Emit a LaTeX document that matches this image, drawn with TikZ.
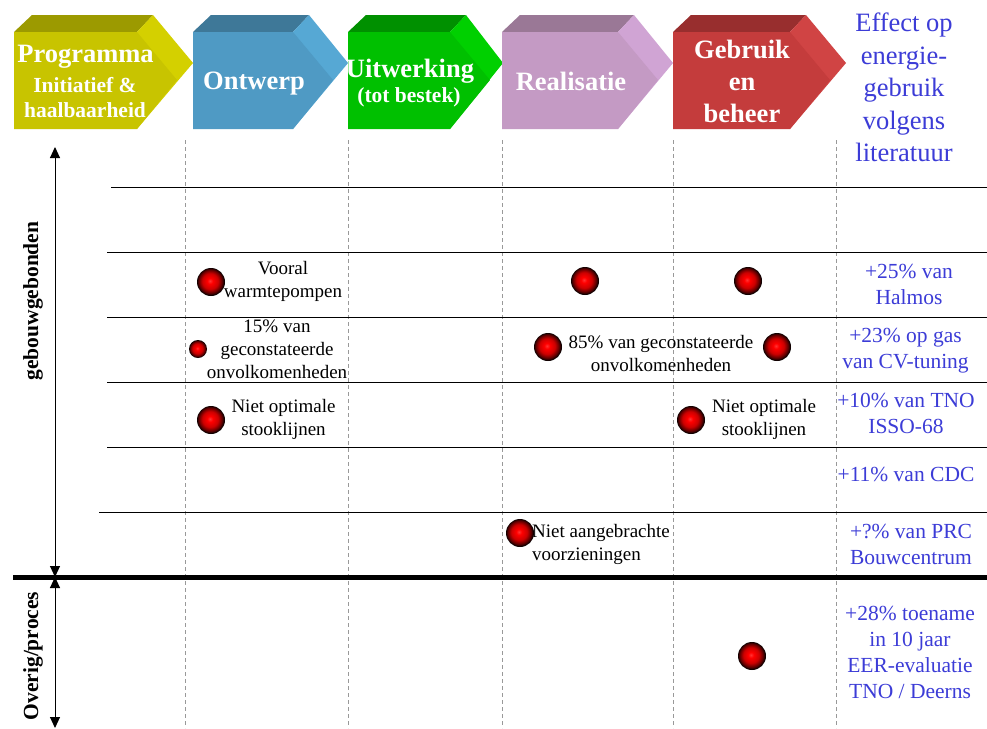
\documentclass[tikz,border=0pt]{standalone}
\usepackage{fontspec}
\setmainfont{Liberation Serif}
\usetikzlibrary{arrows.meta}
\usepackage{xcolor}

\definecolor{progfront}{RGB}{200,196,0}
\definecolor{progtop}{RGB}{156,154,0}
\definecolor{progside}{RGB}{212,208,0}
\definecolor{ontwfront}{RGB}{79,154,196}
\definecolor{ontwtop}{RGB}{62,120,152}
\definecolor{ontwside}{RGB}{86,168,212}
\definecolor{uitwfront}{RGB}{0,192,0}
\definecolor{uitwtop}{RGB}{0,144,0}
\definecolor{uitwside}{RGB}{0,208,0}
\definecolor{realfront}{RGB}{196,154,196}
\definecolor{realtop}{RGB}{154,120,150}
\definecolor{realside}{RGB}{208,164,212}
\definecolor{gebrfront}{RGB}{196,60,60}
\definecolor{gebrtop}{RGB}{152,46,46}
\definecolor{gebrside}{RGB}{208,68,68}
\definecolor{effblue}{RGB}{60,60,215}

\pgfdeclareradialshading{redsphere}{\pgfpoint{-2bp}{2bp}}{color(0bp)=(red!80!white); color(5bp)=(red); color(14bp)=(red!80!black); color(21bp)=(red!35!black); color(25bp)=(black); color(50bp)=(black)}

\begin{document}
\begin{tikzpicture}[x=1pt,y=-1pt]
\tikzstyle{every node}+=[inner sep=0pt]
\tikzstyle{stagebig}=[text=white, align=center, font=\fontsize{26.5}{32}\selectfont\bfseries]
\tikzstyle{stagesmall}=[text=white, align=center, font=\fontsize{21.5}{25}\selectfont\bfseries]
\tikzstyle{note}=[black, align=center, font=\fontsize{19}{23}\selectfont]
\tikzstyle{effect}=[text=effblue, align=center, font=\fontsize{21.5}{26}\selectfont]
\tikzstyle{heading}=[text=effblue, align=center, font=\fontsize{26.5}{32.5}\selectfont]
\tikzstyle{sidelabel}=[black, rotate=90, font=\fontsize{21.5}{25}\selectfont\bfseries]
\tikzstyle{sphere}=[circle, minimum size=28pt, shade, shading=redsphere]
\tikzstyle{guide}=[gray!80, line width=0.8pt, dash pattern=on 4pt off 3pt]
\tikzstyle{rule}=[black, line width=1pt]
\tikzstyle{twoway}=[black, line width=1pt, {Triangle[length=11pt,width=10pt]}-{Triangle[length=11pt,width=10pt]}]
\useasboundingbox (0,0) rectangle (987,728);
\fill [white] (0,0) rectangle (987,728);
% fasen
\fill [progtop] (14,32) -- (32,15) -- (153,15) -- (137,32) -- cycle;
\fill [progside] (137,32) -- (153,15) -- (193,63) -- (137,129) -- cycle;
\fill [progfront] (14,32) -- (137,32) -- (177,80) -- (137,129) -- (14,129) -- cycle;
\fill [ontwtop] (193,32) -- (211,15) -- (309,15) -- (293,32) -- cycle;
\fill [ontwside] (293,32) -- (309,15) -- (348,63) -- (293,129) -- cycle;
\fill [ontwfront] (193,32) -- (293,32) -- (333,80) -- (293,129) -- (193,129) -- cycle;
\fill [uitwtop] (348,32) -- (366,15) -- (466,15) -- (450,32) -- cycle;
\fill [uitwside] (450,32) -- (466,15) -- (503,63) -- (450,129) -- cycle;
\fill [uitwfront] (348,32) -- (450,32) -- (490,80) -- (450,129) -- (348,129) -- cycle;
\fill [realtop] (502,32) -- (520,15) -- (634,15) -- (618,32) -- cycle;
\fill [realside] (618,32) -- (634,15) -- (673,63) -- (618,129) -- cycle;
\fill [realfront] (502,32) -- (618,32) -- (658,80) -- (618,129) -- (502,129) -- cycle;
\fill [gebrtop] (673,32) -- (691,15) -- (806,15) -- (790,32) -- cycle;
\fill [gebrside] (790,32) -- (806,15) -- (846,63) -- (790,129) -- cycle;
\fill [gebrfront] (673,32) -- (790,32) -- (830,80) -- (790,129) -- (673,129) -- cycle;
\node [stagebig] (prog) at (85.5,57) {Programma};
\node [stagesmall] (progsub) at (85,97.5) {Initiatief \&\\haalbaarheid};
\node [stagebig] (ontw) at (254,83.5) {Ontwerp};
\node [stagebig] (uitw) at (410,71) {Uitwerking};
\node [stagesmall] (uitwsub) at (409,97) {(tot bestek)};
\node [stagebig] (real) at (571,81.5) {Realisatie};
\node [stagebig] (gebr) at (742,81.5) {Gebruik\\en\\beheer};
\node [heading] (effect) at (904,87.5) {Effect op\\energie-\\gebruik\\volgens\\literatuur};
% raster
\draw [guide] (185,140) -- (185,728);
\draw [guide] (348,140) -- (348,728);
\draw [guide] (502,140) -- (502,728);
\draw [guide] (673,140) -- (673,728);
\draw [guide] (836,140) -- (836,728);
\draw [rule] (111,187) -- (987,187);
\draw [rule] (107,252) -- (987,252);
\draw [rule] (107,317) -- (987,317);
\draw [rule] (107,382) -- (987,382);
\draw [rule] (107,447) -- (987,447);
\draw [rule] (99,512) -- (987,512);
\draw [black, line width=5pt] (13,577) -- (987,577);
% assen
\coordinate (axtop) at (55,147);
\coordinate (axmid) at (55,577);
\coordinate (axbot) at (55,728);
\draw [twoway] (axtop) -- (axmid);
\draw [twoway] (axmid) -- (axbot);
\node [sidelabel] (gebouw) at (33,301) {gebouwgebonden};
\node [sidelabel] (overig) at (33,656) {Overig/proces};
% bollen
\node [sphere] (b1) at (211,282) {};
\node [sphere] (b2) at (585,281) {};
\node [sphere] (b3) at (748,281) {};
\node [sphere, minimum size=18pt] (b4) at (198,349) {};
\node [sphere] (b5) at (548,347) {};
\node [sphere] (b6) at (777,347) {};
\node [sphere] (b7) at (211,420) {};
\node [sphere] (b8) at (691,420) {};
\node [sphere] (b9) at (520,533) {};
\node [sphere] (b10) at (752,656) {};
% toelichting
\node [note] (n1) at (283,281.5) {Vooral\\warmtepompen};
\node [note] (n2) at (277,349) {15\% van\\geconstateerde\\onvolkomenheden};
\node [note] (n3) at (283.5,419.5) {Niet optimale\\stooklijnen};
\node [note] (n4) at (661,353) {85\% van geconstateerde\\onvolkomenheden};
\node [note] (n5) at (764,419.5) {Niet optimale\\stooklijnen};
\node [note, align=left, anchor=west] (n6) at (532,544) {Niet aangebrachte\\voorzieningen};
% effecten
\node [effect] (e1) at (909,284.5) {+25\% van\\Halmos};
\node [effect] (e2) at (905.5,351) {+23\% op gas\\van CV-tuning};
\node [effect] (e3) at (906,413.5) {+10\% van TNO\\ISSO-68};
\node [effect] (e4) at (906,474) {+11\% van CDC};
\node [effect] (e5) at (911,544) {+?\% van PRC\\Bouwcentrum};
\node [effect] (e6) at (910,652) {+28\% toename\\in 10 jaar\\EER-evaluatie\\TNO / Deerns};
\end{tikzpicture}
\end{document}
